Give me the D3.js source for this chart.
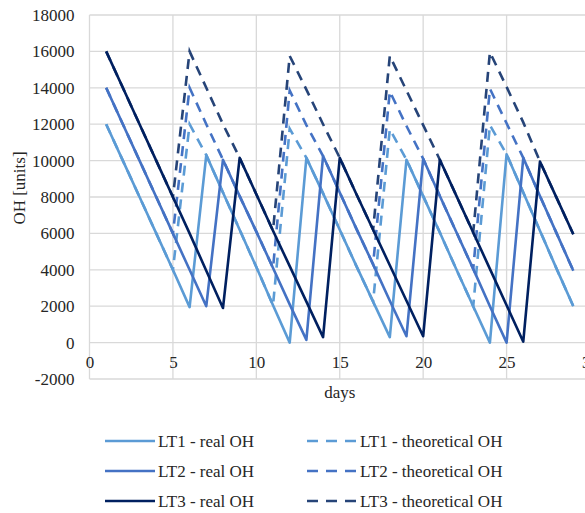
<!DOCTYPE html>
<html>
<head>
<meta charset="utf-8">
<script src="https://cdn.jsdelivr.net/npm/d3@7/dist/d3.min.js"></script>
<style>
body { margin: 0; background: #fff; }
svg { display: block; overflow: hidden; }
</style>
</head>
<body>
<div id="chart"></div>
<script>
var days = d3.range(1, 30)

var lt1Real = [12000, 10000, 8000, 6000, 4000, 1950,
  10300, 8250, 6200, 4150, 2050, 0,
  10150, 8200, 6200, 4200, 2250, 300,
  10050, 8050, 6050, 4000, 2000, 0,
  10350, 8250, 6150, 4050, 2000]
var lt2Real = [14000, 12000, 10000, 8000, 6000, 4000, 2000,
  10050, 8050, 6100, 4100, 2100, 150,
  10250, 8250, 6250, 4300, 2300, 350,
  10100, 8050, 6050, 4050, 2000, 0,
  10150, 8050, 6000, 3950]
var lt3Real = [16000, 14000, 12000, 10000, 8000, 6000, 3950, 1900,
  10150, 8150, 6150, 4200, 2250, 300,
  10150, 8150, 6200, 4250, 2300, 350,
  10050, 8050, 6050, 4050, 2050, 50,
  9950, 7950, 5950]

var lt1Theo = [12000, 10000, 8000, 6000, 4000, 12000,
  10300, 8250, 6200, 4150, 2050, 11750,
  10150, 8200, 6200, 4200, 2250, 11720,
  10050, 8050, 6050, 4000, 2000, 11950,
  10350, 8250, 6150, 4050, 2000]
var lt2Theo = [14000, 12000, 10000, 8000, 6000, 14000, 12000,
  10050, 8050, 6100, 4100, 13850, 11950,
  10250, 8250, 6250, 4300, 13800, 11900,
  10100, 8050, 6050, 4050, 13950, 12050,
  10150, 8050, 6000, 3950]
var lt3Theo = [16000, 14000, 12000, 10000, 8000, 16000, 14000, 12000,
  10150, 8150, 6150, 15750, 13900, 12000,
  10150, 8150, 6200, 15750, 13850, 11950,
  10050, 8050, 6050, 15950, 14050, 12100,
  9950, 7950, 5950]

var xTicks = [0, 5, 10, 15, 20, 25, 30]
var yTicks = [-2000, 0, 2000, 4000, 6000, 8000, 10000, 12000, 14000, 16000, 18000]

var realNames = ["LT1 - real OH", "LT2 - real OH", "LT3 - real OH"]
var theoNames = ["LT1 - theoretical OH", "LT2 - theoretical OH", "LT3 - theoretical OH"]
var realColors = ["#5b9bd5", "#4472c4", "#002060"]
var theoColors = ["#5b9bd5", "#4472c4", "#264478"]

var realSeries = [lt1Real, lt2Real, lt3Real]
var theoSeries = [lt1Theo, lt2Theo, lt3Theo]

var width = 585, height = 513
var fs = "17px"
var ff = "'Liberation Serif', 'Times New Roman', serif"
var txt = "#262626"

var svg = d3.select("#chart")
  .append("svg")
  .attr("width", width)
  .attr("height", height)

var x = d3.scaleLinear().domain([0, 30]).range([89.5, 590])
var y = d3.scaleLinear().domain([-2000, 18000]).range([379, 15])

// grid
svg.append("g")
  .selectAll("line.h")
  .data(yTicks)
  .enter().append("line")
  .attr("x1", x(0)).attr("x2", x(30))
  .attr("y1", function(d) { return y(d) })
  .attr("y2", function(d) { return y(d) })
  .attr("stroke", "#d9d9d9")
  .attr("stroke-width", 1.3)

svg.append("g")
  .selectAll("line.v")
  .data(xTicks)
  .enter().append("line")
  .attr("x1", function(d) { return x(d) })
  .attr("x2", function(d) { return x(d) })
  .attr("y1", y(18000)).attr("y2", y(-2000))
  .attr("stroke", "#d9d9d9")
  .attr("stroke-width", 1.3)

var plain = function(d) { return String(d) }

// y axis labels
var yAxis = d3.axisLeft(y).tickValues(yTicks).tickFormat(plain).tickSize(0).tickPadding(15)
var gy = svg.append("g")
  .attr("transform", "translate(" + x(0) + ",0)")
  .call(yAxis)
gy.select(".domain").remove()
gy.selectAll("text").style("font-family", ff).style("font-size", fs).attr("fill", txt)

// x axis labels, Excel puts them at the zero line
var xAxis = d3.axisBottom(x).tickValues(xTicks).tickFormat(plain).tickSize(0).tickPadding(13)
var gx = svg.append("g")
  .attr("transform", "translate(0," + y(0) + ")")
  .call(xAxis)
gx.select(".domain").remove()
gx.selectAll("text").style("font-family", ff).style("font-size", fs).attr("fill", txt)

var line = d3.line()
  .x(function(d, i) { return x(days[i]) })
  .y(function(d) { return y(d) })

// theoretical under the real ones
theoSeries.forEach(function(s, k) {
  svg.append("path")
    .datum(s)
    .attr("d", line)
    .attr("fill", "none")
    .attr("stroke", theoColors[k])
    .attr("stroke-width", 2.6)
    .attr("stroke-dasharray", "10,7")
})
realSeries.forEach(function(s, k) {
  svg.append("path")
    .datum(s)
    .attr("d", line)
    .attr("fill", "none")
    .attr("stroke", realColors[k])
    .attr("stroke-width", 2.6)
    .attr("stroke-linejoin", "round")
})

svg.append("text")
  .attr("transform", "translate(25,188) rotate(-90)")
  .attr("text-anchor", "middle")
  .style("font-family", ff).style("font-size", fs).attr("fill", txt)
  .text("OH [units]")

svg.append("text")
  .attr("x", (x(0) + x(30)) / 2)
  .attr("y", 398)
  .attr("text-anchor", "middle")
  .style("font-family", ff).style("font-size", fs).attr("fill", txt)
  .text("days")

// legend
var rows = [441, 471, 501]
realNames.forEach(function(n, k) {
  svg.append("line")
    .attr("x1", 105).attr("x2", 155)
    .attr("y1", rows[k]).attr("y2", rows[k])
    .attr("stroke", realColors[k])
    .attr("stroke-width", 2.6)
  svg.append("text")
    .attr("x", 158).attr("y", rows[k])
    .attr("dy", "0.35em")
    .style("font-family", ff).style("font-size", fs).attr("fill", txt)
    .text(n)
})
theoNames.forEach(function(n, k) {
  svg.append("line")
    .attr("x1", 307).attr("x2", 356)
    .attr("y1", rows[k]).attr("y2", rows[k])
    .attr("stroke", theoColors[k])
    .attr("stroke-width", 2.6)
    .attr("stroke-dasharray", "11,8")
  svg.append("text")
    .attr("x", 360).attr("y", rows[k])
    .attr("dy", "0.35em")
    .style("font-family", ff).style("font-size", fs).attr("fill", txt)
    .text(n)
})
</script>
</body>
</html>
